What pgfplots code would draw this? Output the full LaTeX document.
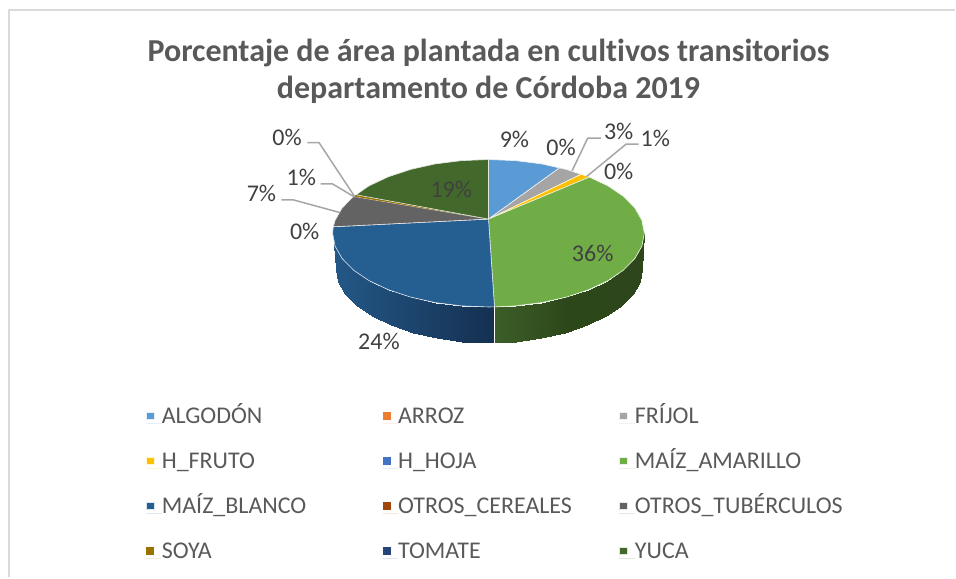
\documentclass[border=0pt]{standalone}
\usepackage{pgfplots}
\pgfplotsset{compat=1.18}
\usepackage{fontspec}
\setmainfont[Ligatures=NoCommon]{Carlito}

\definecolor{algodon}{HTML}{5B9BD5}
\definecolor{arroz}{HTML}{ED7D31}
\definecolor{frijol}{HTML}{A5A5A5}
\definecolor{hfruto}{HTML}{FFC000}
\definecolor{hhoja}{HTML}{4472C4}
\definecolor{mamarillo}{HTML}{70AD47}
\definecolor{mblanco}{HTML}{255E91}
\definecolor{ocereales}{HTML}{9E480E}
\definecolor{otuberculos}{HTML}{636363}
\definecolor{soya}{HTML}{997300}
\definecolor{tomate}{HTML}{264478}
\definecolor{yuca}{HTML}{43682B}
\definecolor{labeltxt}{HTML}{404040}
\definecolor{softtxt}{HTML}{595959}
\definecolor{leader}{HTML}{A6A6A6}
\definecolor{framegray}{HTML}{D9D9D9}

\pgfplotsset{
  colormap={sideblue}{rgb255=(36,88,136) rgb255=(28,68,108) rgb255=(20,48,80)},
  colormap={sidegreen}{rgb255=(60,94,40) rgb255=(44,71,26) rgb255=(45,70,27)},
}

\begin{document}
\begin{tikzpicture}
\begin{axis}[
  scale only axis, width=956pt, height=578pt,
  xmin=0, xmax=956, ymin=0, ymax=578, y dir=reverse,
  hide axis, clip=false,
  legend columns=3,
  legend cell align=left,
  legend style={draw=none, fill=none, at={(axis cs:146,406.5)}, anchor=north west,
    font=\fontsize{24}{24}\selectfont, text=softtxt, inner sep=0pt, row sep=23pt,
    nodes={text width=221.3pt, text height=17pt, text depth=5pt, inner sep=0pt, anchor=base west}},
  legend image code/.code={\fill (0pt,3.5pt) rectangle (8pt,11pt); \path (0pt,0pt) -- (15.2pt,0pt);},
  every axis plot/.append style={line join=round},
]
% frame
\addplot[framegray, line width=2pt, forget plot] coordinates {(9,578) (9,10) (956,10)};

% side wall, front of the pie
\addplot[surf, shader=interp, mesh/rows=2, colormap name=sideblue, point meta=x, point meta rel=per plot, forget plot] coordinates {
(333,233.5) (335.4,246.3) (342.4,258.7) (353.9,270.4) (369.5,281) (388.7,290) (411,297.4) (435.6,302.9) (461.9,306.2) (489,307.3) (495,307.2)
(336.5,269.5) (338.8,282.3) (345.7,294.6) (357,306.3) (372.3,316.8) (391.1,325.8) (413,333.2) (437.2,338.6) (462.9,341.9) (489.5,343) (495,343)
};
\addplot[surf, shader=interp, mesh/rows=2, colormap name=sidegreen, point meta=x, point meta rel=per plot, forget plot] coordinates {
(495,307.2) (516.1,306.2) (542.4,302.9) (567,297.4) (589.3,290) (608.5,281) (624.1,270.4) (635.6,258.7) (642.6,246.3) (645,233.5)
(495,343) (516.1,341.9) (541.8,338.6) (566,333.2) (587.9,325.8) (606.7,316.8) (622,306.3) (633.3,294.6) (640.2,282.3) (642.5,269.5)
};
\addplot[white, line width=0.6pt, forget plot] coordinates {(495,307.2) (495,343)};

% top face, one polygon per crop
\addplot[fill=algodon, draw=white!85!algodon, line width=0.6pt] coordinates {(489,219.3) (489,159.7) (516.1,160.8) (542.4,164.1) (560,168.1)} --cycle;
\addlegendentry{ALGODÓN}
\addplot[fill=arroz, draw=none] coordinates {(560,168.1) (560,168.1)} --cycle;
\addlegendentry{ARROZ}
\addplot[fill=frijol, draw=white!85!frijol, line width=0.6pt] coordinates {(489,219.3) (560,168.1) (567,169.6) (581.7,174.5)} --cycle;
\addlegendentry{FRÍJOL}
\addplot[fill=hfruto, draw=white!85!hfruto, line width=0.6pt] coordinates {(489,219.3) (581.7,174.5) (590,177.3)} --cycle;
\addlegendentry{H\_FRUTO}
\addplot[fill=hhoja, draw=none] coordinates {(590,177.3) (590,177.3)} --cycle;
\addlegendentry{H\_HOJA}
\addplot[fill=mamarillo, draw=white!85!mamarillo, line width=0.6pt] coordinates {(489,219.3) (590,177.3) (608.5,186) (624.1,196.6) (635.6,208.3) (642.6,220.7) (645,233.5) (642.6,246.3) (635.6,258.7) (624.1,270.4) (608.5,281) (589.3,290) (567,297.4) (542.4,302.9) (516.1,306.2) (495,307.2)} --cycle;
\addlegendentry{MAÍZ\_AMARILLO}
\addplot[fill=mblanco, draw=white!85!mblanco, line width=0.6pt] coordinates {(489,219.3) (495,307.2) (489,307.3) (461.9,306.2) (435.6,302.9) (411,297.4) (388.7,290) (369.5,281) (353.9,270.4) (342.4,258.7) (335.4,246.3) (333,233.5) (333.6,227)} --cycle;
\addlegendentry{MAÍZ\_BLANCO}
\addplot[fill=ocereales, draw=none] coordinates {(333.6,227) (333.6,227)} --cycle;
\addlegendentry{OTROS\_CEREALES}
\addplot[fill=otuberculos, draw=white!85!otuberculos, line width=0.6pt] coordinates {(489,219.3) (333.6,227) (335.4,220.7) (342.4,208.3) (353.9,196.6)} --cycle;
\addlegendentry{OTROS\_TUBÉRCULOS}
\addplot[fill=soya, draw=none] coordinates {(489,219.3) (353.9,196.6) (356.5,195)} --cycle;
\addlegendentry{SOYA}
\addplot[fill=tomate, draw=none] coordinates {(356.5,195) (356.5,195)} --cycle;
\addlegendentry{TOMATE}
\addplot[fill=yuca, draw=white!85!yuca, line width=0.6pt] coordinates {(489,219.3) (356.5,195) (369.5,186) (388.7,177) (411,169.6) (435.6,164.1) (461.9,160.8) (489,159.7)} --cycle;
\addlegendentry{YUCA}

% leader lines
\addplot[leader, line width=1.5pt, forget plot] coordinates {(572.7,171) (588.3,138.3) (601.7,138.3)};
\addplot[leader, line width=1.5pt, forget plot] coordinates {(587.3,176.7) (626.7,144.3) (639.3,144.3)};
\addplot[leader, line width=1.5pt, forget plot] coordinates {(307.7,142.7) (319.3,142.7) (355,196.7)};
\addplot[leader, line width=1.5pt, forget plot] coordinates {(321,184) (332.7,184) (355,197.3)};
\addplot[leader, line width=1.5pt, forget plot] coordinates {(281.7,200) (293.3,200) (340,212.7)};

% title
\node[text=softtxt, font=\fontsize{32}{37}\selectfont\bfseries, align=center] at (axis cs:489,71.5) {Porcentaje de área plantada en cultivos transitorios\\departamento de Córdoba 2019};

% data labels
\begin{scope}[every node/.style={text=labeltxt, font=\fontsize{24}{26}\selectfont, inner sep=0pt}]
\node at (axis cs:515,140) {9\%};
\node at (axis cs:561.7,147.3) {0\%};
\node at (axis cs:619.3,131.7) {3\%};
\node at (axis cs:656,139) {1\%};
\node at (axis cs:619.3,171.7) {0\%};
\node at (axis cs:593.3,253.3) {36\%};
\node at (axis cs:451.7,190) {19\%};
\node at (axis cs:379.3,341.7) {24\%};
\node at (axis cs:305,231.7) {0\%};
\node at (axis cs:261.7,193.3) {7\%};
\node at (axis cs:301.7,177.7) {1\%};
\node at (axis cs:287.3,137.7) {0\%};
\end{scope}
\end{axis}
\path[use as bounding box] (0,0) rectangle (956pt,578pt);
\end{tikzpicture}
\end{document}
